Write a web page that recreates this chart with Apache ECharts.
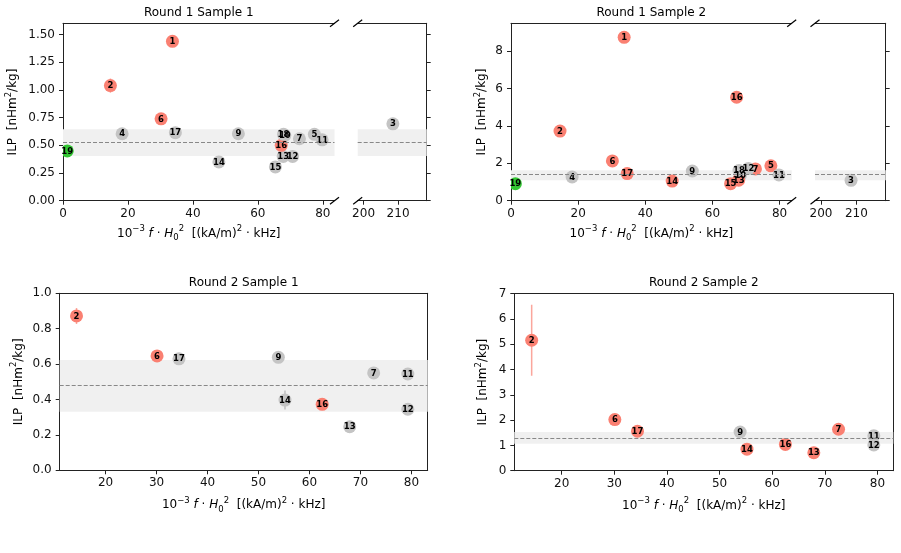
<!DOCTYPE html>
<html><head><meta charset="utf-8">
<script src="https://cdn.jsdelivr.net/npm/echarts@6/dist/echarts.min.js"></script>
<style>html,body{margin:0;padding:0;background:#fff}#c{width:901px;height:553px}</style>
</head><body><div id="c"></div><script>
const FONT = 'DejaVu Sans';

// ---------- data ----------
const titles = ['Round 1 Sample 1', 'Round 1 Sample 2', 'Round 2 Sample 1', 'Round 2 Sample 2'];

// Round 1 (shared sample ids and x values)
const r1Ids = [1, 2, 3, 4, 5, 6, 7, 9, 10, 11, 12, 13, 14, 15, 16, 17, 18, 19];
const r1X   = [33.7, 14.6, 208.5, 18.2, 77.4, 30.2, 72.8, 54.0, 68.3, 79.8, 70.7, 67.8, 48.0, 65.4, 67.2, 34.6, 67.9, 1.3];
// Round 1 Sample 1
const s1Y      = [1.44, 1.04, 0.695, 0.605, 0.60, 0.74, 0.56, 0.605, 0.59, 0.55, 0.40, 0.40, 0.35, 0.305, 0.50, 0.615, 0.60, 0.45];
const s1Status = ['r','r','n','n','n','r','n','n','n','n','n','n','n','n','r','n','n','g'];
const s1Err    = [0, 0.065, 0, 0, 0, 0, 0, 0, 0, 0, 0, 0, 0, 0, 0, 0, 0, 0];
// Round 1 Sample 2
const s2Y      = [8.75, 3.73, 1.09, 1.27, 1.87, 2.13, 1.70, 1.59, 1.35, 1.38, 1.72, 1.10, 1.05, 0.91, 5.54, 1.45, 1.62, 0.91];
const s2Status = ['r','r','n','n','r','r','r','n','n','n','n','r','r','r','r','r','n','g'];
const s2Err    = [0, 0, 0, 0, 0, 0, 0, 0, 0, 0, 0, 0, 0, 0, 0, 0, 0, 0];

// Round 2 (shared sample ids and x values)
const r2Ids = [2, 6, 7, 9, 11, 12, 13, 14, 16, 17];
const r2X   = [14.3, 30.1, 72.6, 53.9, 79.3, 79.3, 67.9, 55.2, 62.5, 34.4];
// Round 2 Sample 1
const s3Y      = [0.872, 0.646, 0.55, 0.638, 0.544, 0.345, 0.246, 0.397, 0.373, 0.63];
const s3Status = ['r','r','n','n','n','n','n','n','r','n'];
const s3Err    = [0.045, 0, 0, 0, 0, 0, 0, 0.054, 0, 0];
// Round 2 Sample 2
const s4Y      = [5.16, 2.02, 1.64, 1.53, 1.38, 1.02, 0.71, 0.85, 1.04, 1.56];
const s4Status = ['r','r','r','n','n','n','r','r','r','r'];
const s4Err    = [1.40, 0, 0, 0, 0, 0, 0, 0, 0, 0];

// consensus mean and band [low, high]
const s1Mean = 0.527, s1Band = [0.405, 0.645];
const s2Mean = 1.385, s2Band = [1.09, 1.63];
const s3Mean = 0.478, s3Band = [0.331, 0.623];
const s4Mean = 1.30,  s4Band = [1.07, 1.53];

// ticks
const xTicksR1Main  = [0, 20, 40, 60, 80];
const xTicksR1Break = [200, 210];
const xTicksR2      = [20, 30, 40, 50, 60, 70, 80];
const yTicks1 = [0, 0.25, 0.5, 0.75, 1.0, 1.25, 1.5];
const yTicks2 = [0, 2, 4, 6, 8];
const yTicks3 = [0, 0.2, 0.4, 0.6, 0.8, 1.0];
const yTicks4 = [0, 1, 2, 3, 4, 5, 6, 7];

// ---------- styling ----------
const COLORS = { r: '#fa8072', n: '#c4c4c4', g: '#33c633' };
const ERRCOL = { r: 'rgba(250,128,114,0.7)', n: 'rgba(170,170,170,0.7)', g: 'rgba(50,200,50,0.7)' };
const AX = '#222';
const FS = 12;
const R = 6.5;

const grids = [
  { left: 63,    top: 23.3,  width: 271.5, height: 177.4 },
  { left: 357.7, top: 23.3,  width: 69,    height: 177.4 },
  { left: 511,   top: 23.3,  width: 280.7, height: 177.4 },
  { left: 815,   top: 23.3,  width: 70.7,  height: 177.4 },
  { left: 59.7,  top: 293.3, width: 368,   height: 177 },
  { left: 514.3, top: 293.7, width: 379,   height: 177 }
];

const xName = '{n|10}{sup|−3}{it| f}{n| · }{it|H}{sub|0}{sup|2}{n|  [(kA/m)}{sup|2}{n| · kHz]}';
const yName = '{n|ILP  [nHm}{sup|2}{n|/kg]}';
const rich = {
  n:   { fontSize: FS, fontFamily: FONT, color: '#000', verticalAlign: 'bottom', padding: [0, 0, 3, 0] },
  it:  { fontSize: FS, fontFamily: FONT, color: '#000', fontStyle: 'italic', verticalAlign: 'bottom', padding: [0, 0, 3, 0] },
  sup: { fontSize: 8.5, fontFamily: FONT, color: '#000', verticalAlign: 'bottom', padding: [0, 0, 9, 0] },
  sub: { fontSize: 8.5, fontFamily: FONT, color: '#000', verticalAlign: 'bottom', padding: [0, 0, 0, 0] }
};

const xAxes = [], yAxes = [], series = [];

function addX(g, min, max, ticks, name, gap) {
  const idx = xAxes.length;
  xAxes.push({
    gridIndex: g, type: 'value', position: 'bottom', min: min, max: max,
    axisLine: { show: true, onZero: false, lineStyle: { color: AX, width: 1 } },
    axisTick: { show: true, length: 4, customValues: ticks, lineStyle: { color: AX } },
    axisLabel: { show: true, customValues: ticks, margin: 7, color: '#111', fontSize: FS, fontFamily: FONT,
                 formatter: v => String(v) },
    splitLine: { show: false },
    name: name || '', nameLocation: 'middle', nameGap: gap || 0,
    nameTextStyle: { rich: rich }
  });
  xAxes.push({
    gridIndex: g, type: 'value', position: 'top', min: min, max: max,
    axisLine: { show: true, onZero: false, lineStyle: { color: AX, width: 1 } },
    axisTick: { show: false }, axisLabel: { show: false }, splitLine: { show: false }
  });
  return idx;
}
function addY(g, min, max, ticks, opts) {
  const idx = yAxes.length;
  const dec = opts.dec;
  yAxes.push({
    gridIndex: g, type: 'value', position: opts.pos, min: min, max: max,
    axisLine: { show: true, onZero: false, lineStyle: { color: AX, width: 1 } },
    axisTick: { show: true, length: 4, customValues: ticks, lineStyle: { color: AX } },
    axisLabel: { show: opts.labels, customValues: ticks, margin: 8, color: '#111', fontSize: FS, fontFamily: FONT,
                 formatter: v => v.toFixed(dec) },
    splitLine: { show: false },
    name: opts.name || '', nameLocation: 'middle', nameGap: opts.gap || 0,
    nameTextStyle: { rich: rich }
  });
  if (opts.box) {
    yAxes.push({
      gridIndex: g, type: 'value', position: 'right', min: min, max: max,
      axisLine: { show: true, onZero: false, lineStyle: { color: AX, width: 1 } },
      axisTick: { show: false }, axisLabel: { show: false }, splitLine: { show: false }
    });
  }
  return idx;
}

function addSeries(xi, yi, ids, xs, ys, st, err, keep, mean, band) {
  const pts = [], bars = [];
  ids.forEach((id, i) => {
    if (!keep(xs[i])) return;
    pts.push({ value: [xs[i], ys[i], id], c: COLORS[st[i]] });
    if (err[i] > 0) bars.push({ value: [xs[i], ys[i] - err[i], ys[i] + err[i]], c: ERRCOL[st[i]] });
  });
  series.push({
    type: 'line', xAxisIndex: xi, yAxisIndex: yi, data: [], z: 1, silent: true,
    markArea: { silent: true, itemStyle: { color: '#f0f0f0' }, data: [[{ yAxis: band[0] }, { yAxis: band[1] }]] },
    markLine: { silent: true, symbol: 'none', label: { show: false },
                lineStyle: { color: '#888', type: [4, 2], width: 1 }, data: [{ yAxis: mean }] }
  });
  series.push({
    type: 'custom', xAxisIndex: xi, yAxisIndex: yi, z: 2, silent: true, clip: true,
    data: bars.map(b => ({ value: b.value })),
    renderItem: (params, api) => {
      const p1 = api.coord([api.value(0), api.value(1)]);
      const p2 = api.coord([api.value(0), api.value(2)]);
      return { type: 'line', shape: { x1: p1[0], y1: p1[1], x2: p2[0], y2: p2[1] },
               style: { stroke: bars[params.dataIndex].c, lineWidth: 1.5 } };
    }
  });
  // circles (clipped at the axes, like the original)
  series.push({
    type: 'custom', xAxisIndex: xi, yAxisIndex: yi, z: 3, silent: true, clip: true,
    data: pts.map(p => ({ value: p.value })),
    renderItem: (params, api) => {
      const p = api.coord([api.value(0), api.value(1)]);
      return { type: 'circle', shape: { cx: p[0], cy: p[1], r: R },
               style: { fill: pts[params.dataIndex].c } };
    }
  });
  // id labels
  series.push({
    type: 'custom', xAxisIndex: xi, yAxisIndex: yi, z: 4, silent: true, clip: false,
    data: pts.map(p => ({ value: p.value })),
    renderItem: (params, api) => {
      const p = api.coord([api.value(0), api.value(1)]);
      return { type: 'text', style: { text: String(api.value(2)), x: p[0], y: p[1] + 0.5,
               align: 'center', verticalAlign: 'middle', fill: '#000',
               font: 'bold 8.5px "DejaVu Sans"' } };
    }
  });
}

// Panel 1
let xi, yi;
xi = addX(0, 0, 83.6, xTicksR1Main, xName, 24);
yi = addY(0, 0, 1.603, yTicks1, { pos: 'left', labels: true, dec: 2, name: yName, gap: 41 });
addSeries(xi, yi, r1Ids, r1X, s1Y, s1Status, s1Err, v => v < 150, s1Mean, s1Band);
xi = addX(1, 198.3, 218.3, xTicksR1Break);
yi = addY(1, 0, 1.603, yTicks1, { pos: 'right', labels: false, dec: 2 });
addSeries(xi, yi, r1Ids, r1X, s1Y, s1Status, s1Err, v => v >= 150, s1Mean, s1Band);
// Panel 2
xi = addX(2, 0, 83.6, xTicksR1Main, xName, 24);
yi = addY(2, 0, 9.5, yTicks2, { pos: 'left', labels: true, dec: 0, name: yName, gap: 20 });
addSeries(xi, yi, r1Ids, r1X, s2Y, s2Status, s2Err, v => v < 150, s2Mean, s2Band);
xi = addX(3, 198.3, 218.3, xTicksR1Break);
yi = addY(3, 0, 9.5, yTicks2, { pos: 'right', labels: false, dec: 0 });
addSeries(xi, yi, r1Ids, r1X, s2Y, s2Status, s2Err, v => v >= 150, s2Mean, s2Band);
// Panel 3
xi = addX(4, 11.0, 83.2, xTicksR2, xName, 26);
yi = addY(4, 0, 1.0, yTicks3, { pos: 'left', labels: true, dec: 1, name: yName, gap: 32, box: true });
addSeries(xi, yi, r2Ids, r2X, s3Y, s3Status, s3Err, v => true, s3Mean, s3Band);
// Panel 4
xi = addX(5, 11.0, 83.0, xTicksR2, xName, 26);
yi = addY(5, 0, 7, yTicks4, { pos: 'left', labels: true, dec: 0, name: yName, gap: 22, box: true });
addSeries(xi, yi, r2Ids, r2X, s4Y, s4Status, s4Err, v => true, s4Mean, s4Band);

const titleCenters = [[198.8, 7], [651.3, 7], [243.7, 277], [703.8, 277]];
const chart = echarts.init(document.getElementById('c'), null, { renderer: 'canvas' });
chart.setOption({
  animation: false,
  backgroundColor: '#fff',
  textStyle: { fontFamily: FONT },
  title: titles.map((t, i) => ({
    text: t, left: titleCenters[i][0], top: titleCenters[i][1], textAlign: 'center', padding: 0,
    textStyle: { fontSize: FS, fontWeight: 'normal', color: '#000', fontFamily: FONT }
  })),
  grid: grids,
  xAxis: xAxes,
  yAxis: yAxes,
  series: series
});

// axis-break marks at the corners between the split parts
const marks = [];
function breakMark(xIdx, yIdx, xv, yv) {
  const p = chart.convertToPixel({ xAxisIndex: xIdx, yAxisIndex: yIdx }, [xv, yv]);
  marks.push({ type: 'line', silent: true, z: 10,
    shape: { x1: p[0] - 4.5, y1: p[1] + 3.5, x2: p[0] + 4.5, y2: p[1] - 3.5 },
    style: { stroke: '#000', lineWidth: 1.2 } });
}
[[0, 0, 83.6, 1.603], [0, 0, 83.6, 0], [2, 1, 198.3, 1.603], [2, 1, 198.3, 0],
 [4, 2, 83.6, 9.5], [4, 2, 83.6, 0], [6, 3, 198.3, 9.5], [6, 3, 198.3, 0]].forEach(m => breakMark(m[0], m[1], m[2], m[3]));
chart.setOption({ graphic: marks });
</script></body></html>
